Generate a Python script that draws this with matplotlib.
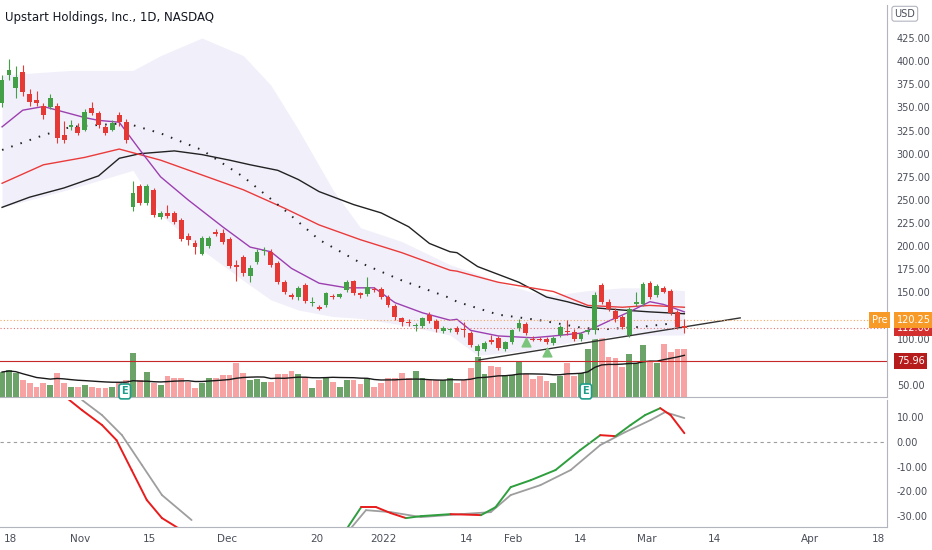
import matplotlib
matplotlib.use("Agg")
import matplotlib.pyplot as plt
import numpy as np
import pandas as pd

# daily candles, Oct 18 2021 .. Mar 8 2022
opens = [355, 385, 371, 388, 365, 358, 352, 350, 352, 320, 329, 329, 326, 349, 344, 329, 326, 342, 334,
         242, 265, 247, 261, 232, 236, 236, 228, 211, 203, 192, 200, 215, 214, 208, 180, 188, 168, 183, 195, 194,
         182, 161, 147, 145, 158, 139, 134, 136, 146, 145, 153, 162, 149, 148, 154, 154, 145, 135, 122, 118,
         114, 114, 126, 119, 108, 109, 112, 110, 106, 87, 89, 99, 101, 89, 96, 112, 116, 100, 100, 100,
         95, 104, 108, 107, 100, 107, 109, 158, 140, 130, 123, 104, 137, 137, 160, 147, 155, 152, 129, 114]
closes = [380, 390, 383, 367, 356, 355, 342, 360, 317, 315, 331, 322, 345, 344, 331, 322, 333, 334, 315,
          257, 247, 265, 234, 236, 233, 226, 208, 207, 199, 209, 209, 213, 204, 179, 178, 171, 176, 194, 195, 180,
          161, 150, 145, 155, 141, 140, 132, 149, 145, 148, 161, 149, 147, 156, 153, 145, 136, 123, 118, 117,
          115, 122, 119, 110, 112, 110, 107, 109, 93, 92, 95, 96, 90, 96, 109, 117, 106, 99, 99, 96,
          101, 113, 107, 100, 105, 109, 147, 140, 132, 121, 113, 132, 140, 159, 145, 157, 151, 128, 113, 112]
highs = [385, 402, 395, 396, 370, 368, 355, 365, 355, 335, 336, 333, 348, 356, 346, 331, 336, 345, 338,
         271, 267, 267, 263, 238, 245, 238, 230, 214, 207, 211, 211, 219, 219, 210, 185, 191, 180, 197, 199, 197,
         184, 163, 149, 157, 160, 145, 136, 151, 148, 149, 163, 164, 151, 167, 156, 156, 147, 137, 124, 121,
         117, 124, 129, 121, 114, 112, 114, 118, 108, 94, 97, 104, 103, 98, 111, 121, 118, 103, 102, 102,
         103, 115, 120, 110, 107, 111, 150, 160, 143, 133, 126, 134, 150, 161, 162, 159, 157, 154, 131, 121]
lows = [350, 380, 360, 362, 352, 352, 338, 348, 311, 312, 326, 320, 324, 342, 328, 320, 324, 330, 311,
        238, 244, 245, 232, 229, 231, 224, 206, 201, 192, 190, 198, 211, 202, 176, 162, 168, 161, 181, 190, 178,
        159, 148, 143, 142, 139, 135, 131, 134, 143, 144, 151, 147, 144, 146, 151, 143, 134, 120, 114, 114,
        108, 112, 117, 107, 106, 107, 105, 102, 91, 81, 87, 94, 88, 87, 94, 108, 104, 97, 97, 94,
        93, 102, 104, 98, 98, 105, 105, 138, 130, 118, 110, 102, 135, 135, 143, 145, 149, 126, 111, 106]
volumes = [25, 27, 24, 17, 14, 10, 14, 12, 24, 14, 10, 10, 12, 10, 9, 9, 10, 14, 17,
           44, 17, 25, 14, 12, 21, 19, 19, 15, 9, 14, 19, 19, 22, 22, 34, 24, 17, 18, 15, 15,
           23, 23, 26, 23, 20, 9, 17, 19, 15, 10, 17, 17, 13, 19, 10, 14, 19, 19, 24, 19,
           26, 19, 17, 17, 17, 19, 14, 17, 29, 40, 23, 31, 30, 22, 22, 35, 23, 18, 21, 16,
           14, 21, 34, 21, 24, 48, 104, 65, 40, 39, 30, 43, 34, 52, 36, 34, 53, 45, 48, 48]

# moving averages (bar index, price)
ma_fast_x = [0, 3, 6, 8, 12, 14, 17, 20, 23, 27, 32, 36, 39, 42, 46, 50, 54, 57, 61, 65,
             66, 68, 72, 77, 80, 84, 86, 88, 91, 94, 96, 99]
ma_fast_y = [329, 347, 351, 347, 339, 336, 334, 304, 275, 250, 221, 199, 194, 176, 160, 155, 155, 139, 128, 120,
             121, 109, 103, 101, 103, 106, 112, 119, 129, 140, 137, 129]
ma_red_x = [0, 6, 12, 17, 23, 29, 35, 41, 46, 52, 58, 65, 66, 72, 80, 85, 90, 94, 99]
ma_red_y = [268, 288, 296, 305, 293, 277, 261, 241, 223, 207, 193, 174, 173, 161, 151, 136, 134, 136, 134]
ma_blk_x = [0, 4, 9, 14, 17, 20, 25, 29, 33, 36, 40, 43, 46, 51, 55, 59, 62, 65, 66, 69, 75, 79, 82, 85, 90, 94, 99]
ma_blk_y = [242, 253, 263, 276, 295, 300, 303, 299, 293, 288, 282, 272, 259, 245, 236, 221, 203, 194, 193, 178,
            161, 145, 140, 134, 131, 129, 127]
ma_dot_x = [0, 6, 10, 16, 18, 23, 29, 35, 41, 46, 52, 58, 65, 66, 72, 78, 84, 87, 93, 99]
ma_dot_y = [304, 320, 329, 332, 333, 322, 304, 275, 239, 207, 182, 163, 144, 140, 126, 120, 112, 110, 113, 118]
band_x = [0, 10, 19, 23, 29, 35, 39, 43, 48, 52, 58, 65, 69, 72, 77, 80, 85, 90, 93, 99]
band_hi = [385, 390, 390, 406, 425, 406, 374, 326, 261, 220, 205, 180, 170, 161, 150, 147, 152, 155, 155, 152]
band_lo = [242, 262, 282, 234, 196, 163, 142, 131, 124, 122, 115, 104, 82, 84, 88, 93, 99, 104, 104, 104]
trend_x = [69.2, 107.1]
trend_y = [77, 122.5]
signal_x = [76, 79]
signal_y = [96.5, 85.7]
earnings_x = [17.8, 84.7]

# oscillator pane
osc1_x = [9.4, 11.6, 14.5, 16.6, 18.8, 21.0, 23.2, 26.0, None,
          49.9, 52.1, 54.3, 56.4, 58.6, 60.8, 65.1, 69.5, 71.6, 73.8, 76.7, 80.3, 83.9, 86.8, 89.0, 91.2, 93.3, 95.5, 97.0, 99.0]
osc1_y = [17.7, 12.8, 6.8, 0.7, -11.4, -23.5, -30.8, -35.6, None,
          -35.6, -26.4, -26.4, -28.8, -30.8, -30.0, -29.2, -29.6, -26.4, -18.3, -15.5, -11.4, -3.3, 2.7, 2.3, 6.8, 10.8, 13.6, 10.8, 3.5]
osc2_x = [11.6, 14.5, 17.4, 20.3, 23.2, 27.5, None,
          50.4, 52.8, 56.4, 60.8, 66.6, 70.9, 73.8, 78.1, 82.5, 86.8, 90.4, 94.1, 96.2, 99.0]
osc2_y = [16.9, 10.8, 2.7, -9.4, -21.5, -31.6, None,
          -35.6, -27.6, -28.4, -30.4, -29.2, -28.4, -21.5, -17.5, -11.4, -1.3, 3.9, 8.8, 12.0, 9.6]

tick_pos = [1.2, 11.3, 21.4, 32.7, 45.6, 55.4, 67.4, 74.2, 83.9, 93.6, 103.3, 117.2, 127.1]
tick_lab = ["18", "Nov", "15", "Dec", "20", "2022", "14", "Feb", "14", "Mar", "14", "Apr", "18"]
price_ticks = [50, 75, 100, 125, 150, 175, 200, 225, 250, 275, 300, 325, 350, 375, 400, 425]
osc_ticks = [10, 0, -10, -20, -30]

UP, DOWN = "#43a047", "#e53935"
VUP, VDOWN = "#6ba368", "#f7a3a3"
TXT = "#4a4e59"

fig = plt.figure(figsize=(9.32, 5.5), dpi=100)
ax = fig.add_axes([0, 1 - 397 / 550, 887 / 932, 392 / 550])
axv = ax.twinx()
axo = fig.add_axes([0, 1 - 527 / 550, 887 / 932, 127 / 550])

n = len(closes)
idx = np.arange(n)
xlim = (-0.3, 128.4)

# volume
vcol = [VUP if c >= o else VDOWN for o, c in zip(opens, closes)]
axv.bar(idx, volumes, width=0.85, color=vcol, zorder=1)
vma = pd.Series(volumes).rolling(20, min_periods=1).mean()
axv.plot(idx, vma, color="#1a1a1a", lw=1.0)
axv.set_ylim(0, 392)
axv.axis("off")
ax.set_zorder(axv.get_zorder() + 1)
ax.patch.set_visible(False)

ax.fill_between(band_x, band_lo, band_hi, color="#f1effa", lw=0)
ax.plot(ma_blk_x, ma_blk_y, color="#222222", lw=1.0)
ax.plot(ma_red_x, ma_red_y, color="#ea3b3b", lw=1.0)
ax.plot(ma_fast_x, ma_fast_y, color="#9c3fb0", lw=1.0)
ax.plot(ma_dot_x, ma_dot_y, color="#222222", lw=1.4, linestyle=(0, (0.8, 4.2)))
ax.plot(trend_x, trend_y, color="#333333", lw=1.0)

for i in range(n):
    c = UP if closes[i] >= opens[i] else DOWN
    ax.vlines(i, lows[i], highs[i], color=c, lw=0.8, zorder=3)
    lo, hi = sorted((opens[i], closes[i]))
    ax.bar(i, max(hi - lo, 0.8), bottom=lo, width=0.7, color=c, zorder=4, lw=0)

ax.scatter(signal_x, signal_y, marker="^", s=40, color="#7bc47b", zorder=5)
for ex in earnings_x:
    ax.text(ex, 43, "E", ha="center", va="center", fontsize=7, color="#1e9e8a", fontweight="bold",
            bbox=dict(boxstyle="round,pad=0.25", fc="white", ec="#1e9e8a", lw=1.2), zorder=6)

ax.axhline(120.25, color="#f7a35c", lw=0.8, linestyle=(0, (1, 2)))
ax.axhline(112, color="#e57373", lw=0.8, linestyle=(0, (1, 2)))
ax.axhline(75.96, color="#c62828", lw=0.8)

ax.set_xlim(*xlim)
ax.set_ylim(37.0, 460.7)
ax.yaxis.tick_right()
ax.set_yticks(price_ticks)
ax.set_yticklabels([f"{v:.2f}" for v in price_ticks])
ax.tick_params(axis="y", length=0, labelsize=7, labelcolor=TXT, pad=7)
ax.set_xticks([])
for s in ["top", "left"]:
    ax.spines[s].set_visible(False)
ax.spines["right"].set_color("#b2b5be")
ax.spines["bottom"].set_color("#b2b5be")

ax.text(0.006, 0.985, "Upstart Holdings, Inc., 1D, NASDAQ", transform=ax.transAxes, fontsize=8.5,
        color="#131722", va="top")
fig.text(0.982, 0.975, "USD", fontsize=7, color=TXT, ha="right", va="center",
         bbox=dict(boxstyle="round,pad=0.25", fc="white", ec="#b2b5be", lw=0.8))
lab = dict(fontsize=7, color="white", va="center", ha="left", clip_on=False)
ytr = ax.get_yaxis_transform()
ax.text(1.011, 112, "112.00", transform=ytr,
        bbox=dict(boxstyle="square,pad=0.3", fc="#d32f2f", ec="none"), **lab)
ax.text(1.011, 120.25, "120.25", transform=ytr,
        bbox=dict(boxstyle="square,pad=0.3", fc="#f89a28", ec="none"), **lab)
ax.text(0.983, 120.25, "Pre", transform=ytr,
        bbox=dict(boxstyle="square,pad=0.3", fc="#f89a28", ec="none"), **lab)
ax.text(1.011, 75.96, "75.96", transform=ytr,
        bbox=dict(boxstyle="square,pad=0.3", fc="#b71c1c", ec="none"), **lab)

# oscillator
def draw_osc(xs, ys, color_fn, lw):
    for k in range(len(xs) - 1):
        if xs[k] is None or xs[k + 1] is None:
            continue
        axo.plot(xs[k:k + 2], ys[k:k + 2], color=color_fn(k, ys), lw=lw, solid_capstyle="round")

draw_osc(osc2_x, osc2_y, lambda k, ys: "#9e9e9e", 1.3)
draw_osc(osc1_x, osc1_y, lambda k, ys: "#2e9e3e" if ys[k + 1] > ys[k] and k > 8 else "#e81c1c", 1.4)
axo.axhline(0, color="#9e9e9e", lw=0.8, linestyle=(0, (3, 3)))
axo.set_xlim(*xlim)
axo.set_ylim(-34.4, 16.9)
axo.yaxis.tick_right()
axo.set_yticks(osc_ticks)
axo.set_yticklabels([f"{v:.2f}" for v in osc_ticks])
axo.tick_params(axis="y", length=0, labelsize=7, labelcolor=TXT, pad=7)
axo.set_xticks(tick_pos)
axo.set_xticklabels(tick_lab)
axo.tick_params(axis="x", length=0, labelsize=7.5, labelcolor=TXT, pad=5)
for s in ["top", "left"]:
    axo.spines[s].set_visible(False)
axo.spines["right"].set_color("#b2b5be")
axo.spines["bottom"].set_color("#b2b5be")

fig.savefig("out.png", dpi=100)
